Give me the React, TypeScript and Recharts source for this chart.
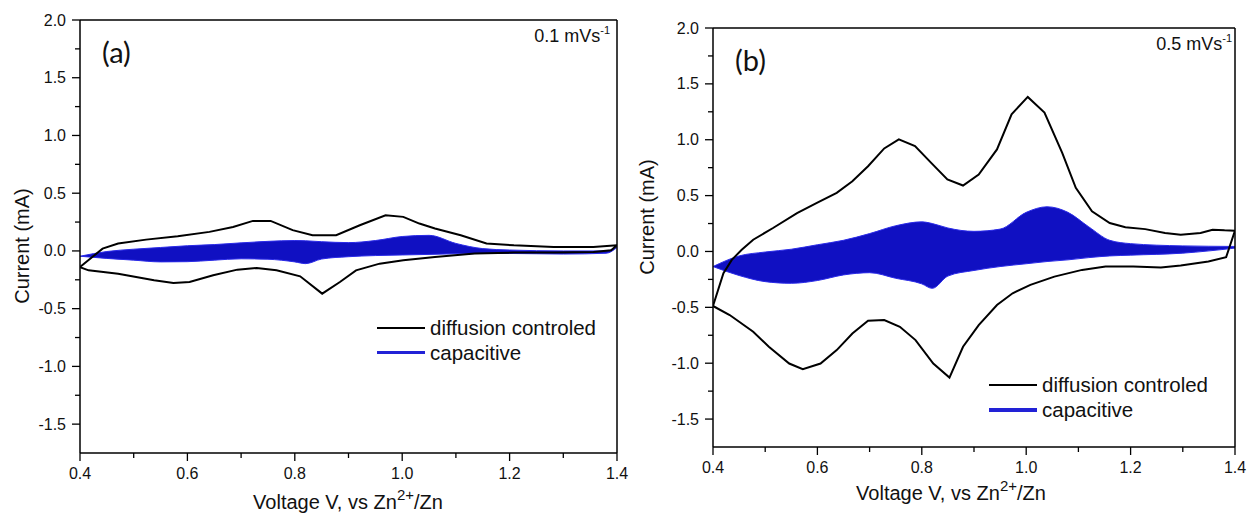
import { ComposedChart, Line, Area, XAxis, YAxis, ReferenceLine, Legend } from 'recharts';

const FONT = '"Liberation Sans", Arial, sans-serif';
const TAG_FONT = 'Lato, "Open Sans", sans-serif';

// axis ticks (minor ticks included, labels only on majors)
const voltageTicks = [0.4, 0.5, 0.6, 0.7, 0.8, 0.9, 1.0, 1.1, 1.2, 1.3, 1.4];
const currentTicks = [-1.5, -1.25, -1.0, -0.75, -0.5, -0.25, 0, 0.25, 0.5, 0.75, 1.0, 1.25, 1.5, 1.75, 2.0];

const legendNames = ['diffusion controled', 'capacitive'];

// (a) 0.1 mV/s — diffusion controlled loop
const aUpperV = [0.4, 0.442, 0.471, 0.523, 0.582, 0.641, 0.685, 0.722, 0.755, 0.796, 0.833, 0.877, 0.921, 0.969, 1.002, 1.032, 1.061, 1.109, 1.157, 1.208, 1.282, 1.356, 1.4];
const aUpperI = [-0.14, 0.02, 0.064, 0.098, 0.127, 0.165, 0.208, 0.26, 0.26, 0.18, 0.136, 0.136, 0.222, 0.309, 0.295, 0.237, 0.194, 0.136, 0.064, 0.049, 0.035, 0.035, 0.049];
const aLowerV = [0.4, 0.416, 0.471, 0.538, 0.574, 0.604, 0.648, 0.693, 0.729, 0.766, 0.81, 0.851, 0.884, 0.914, 0.958, 1.002, 1.061, 1.135, 1.208, 1.282, 1.356, 1.389, 1.4];
const aLowerI = [-0.14, -0.168, -0.197, -0.254, -0.277, -0.269, -0.211, -0.162, -0.147, -0.168, -0.22, -0.37, -0.269, -0.168, -0.11, -0.081, -0.052, -0.023, -0.014, -0.014, -0.009, 0.006, 0.049];

// (a) capacitive band
const aCapV = [0.4, 0.45, 0.5, 0.55, 0.6, 0.65, 0.7, 0.75, 0.8, 0.82, 0.85, 0.9, 0.95, 1.0, 1.05, 1.1, 1.15, 1.2, 1.3, 1.38, 1.4];
const aCapLow = [-0.046, -0.065, -0.08, -0.095, -0.093, -0.08, -0.068, -0.072, -0.095, -0.11, -0.07, -0.05, -0.04, -0.035, -0.03, -0.025, -0.022, -0.022, -0.027, -0.02, 0.03];
const aCapHigh = [-0.046, -0.005, 0.015, 0.03, 0.045, 0.055, 0.07, 0.083, 0.09, 0.088, 0.08, 0.072, 0.09, 0.125, 0.135, 0.065, 0.02, 0.008, 0.0, 0.0, 0.035];

// (b) 0.5 mV/s — diffusion controlled loop
const bUpperV = [0.4, 0.42, 0.436, 0.455, 0.477, 0.515, 0.561, 0.599, 0.637, 0.667, 0.697, 0.728, 0.756, 0.787, 0.818, 0.849, 0.879, 0.909, 0.944, 0.972, 1.003, 1.035, 1.069, 1.095, 1.126, 1.16, 1.19, 1.228, 1.266, 1.296, 1.334, 1.357, 1.38, 1.4];
const bUpperI = [-0.488, -0.195, -0.075, 0.015, 0.105, 0.21, 0.344, 0.434, 0.524, 0.629, 0.763, 0.922, 1.003, 0.943, 0.793, 0.644, 0.59, 0.689, 0.913, 1.228, 1.383, 1.243, 0.883, 0.569, 0.359, 0.254, 0.216, 0.2, 0.165, 0.15, 0.165, 0.195, 0.189, 0.186];
const bLowerV = [0.4, 0.432, 0.477, 0.507, 0.546, 0.572, 0.606, 0.637, 0.667, 0.697, 0.728, 0.758, 0.788, 0.822, 0.853, 0.879, 0.909, 0.944, 0.974, 1.008, 1.054, 1.107, 1.152, 1.205, 1.258, 1.296, 1.349, 1.383, 1.4];
const bLowerI = [-0.488, -0.569, -0.719, -0.853, -1.003, -1.054, -1.003, -0.883, -0.734, -0.62, -0.614, -0.674, -0.793, -1.003, -1.129, -0.853, -0.659, -0.479, -0.374, -0.299, -0.225, -0.165, -0.135, -0.135, -0.144, -0.126, -0.09, -0.051, 0.186];

// (b) capacitive band
const bCapV = [0.4, 0.45, 0.5, 0.55, 0.6, 0.65, 0.7, 0.75, 0.8, 0.82, 0.85, 0.9, 0.95, 1.0, 1.04, 1.08, 1.12, 1.16, 1.2, 1.3, 1.4];
const bCapLow = [-0.135, -0.215, -0.27, -0.285, -0.26, -0.21, -0.19, -0.24, -0.29, -0.33, -0.22, -0.17, -0.135, -0.11, -0.09, -0.075, -0.055, -0.04, -0.033, -0.015, 0.03];
const bCapHigh = [-0.135, -0.04, -0.005, 0.02, 0.06, 0.1, 0.16, 0.23, 0.265, 0.25, 0.21, 0.18, 0.2, 0.35, 0.4, 0.35, 0.22, 0.1, 0.07, 0.05, 0.045];

const TICK = 8;
const MINOR = 5;
const GAP = 5;

// closed CV loop: forward sweep then the reverse sweep back
function makeLoop(uv: number[], ui: number[], lv: number[], li: number[]) {
  const up = uv.map((v, k) => ({ v, i: ui[k] }));
  const down = lv.map((v, k) => ({ v, i: li[k] })).reverse();
  return up.concat(down);
}

function makeBand(cv: number[], lo: number[], hi: number[]) {
  return cv.map((v, k) => ({ v, range: [lo[k], hi[k]] }));
}

function VoltTick(props: any) {
  const { x, y, payload } = props;
  const v = payload.value;
  const major = Math.round(v * 10) % 2 === 0;
  const axisY = y - TICK - GAP;
  return (
    <g>
      <line x1={x} x2={x} y1={axisY} y2={axisY + (major ? TICK : MINOR)} stroke="#000" strokeWidth={1.3} />
      {major && (
        <text x={x} y={axisY + 26} textAnchor="middle" fontSize={16} fontFamily={FONT} fill="#111">
          {v.toFixed(1)}
        </text>
      )}
    </g>
  );
}

function CurrentTick(props: any) {
  const { x, y, payload } = props;
  const v = payload.value;
  const major = Math.round(v * 4) % 2 === 0;
  const axisX = x + TICK + GAP;
  return (
    <g>
      <line x1={axisX - (major ? TICK : MINOR)} x2={axisX} y1={y} y2={y} stroke="#000" strokeWidth={1.3} />
      {major && (
        <text x={axisX - 14} y={y + 5.5} textAnchor="end" fontSize={16} fontFamily={FONT} fill="#111">
          {v.toFixed(1)}
        </text>
      )}
    </g>
  );
}

function LegendBox({ blueHeight }: { blueHeight: number }) {
  return (
    <div style={{ fontFamily: FONT, fontSize: 20.5, color: '#111' }}>
      {legendNames.map((name, k) => (
        <div key={name} style={{ display: 'flex', alignItems: 'center', height: 25 }}>
          <span
            style={{
              display: 'inline-block',
              width: 48,
              height: k === 0 ? 2 : blueHeight,
              background: k === 0 ? '#000' : '#2222d6',
              marginRight: 5,
            }}
          />
          <span>{name}</span>
        </div>
      ))}
    </div>
  );
}

interface PanelProps {
  left: number;
  width: number;
  margin: { top: number; right: number; bottom: number; left: number };
  yAxisWidth: number;
  loop: { v: number; i: number }[];
  band: { v: number; range: number[] }[];
  tag: string;
  tagPos: [number, number];
  rate: string;
  ratePos: [number, number];
  xTitle: [number, number];
  yTitle: [number, number];
  legendPos: [number, number];
  blueHeight: number;
}

function Panel(p: PanelProps) {
  const h = 514;
  return (
    <div style={{ position: 'absolute', left: p.left, top: 0, width: p.width, height: h }}>
      <ComposedChart width={p.width} height={h} margin={p.margin}>
        <XAxis
          dataKey="v"
          type="number"
          domain={[0.4, 1.4]}
          ticks={voltageTicks}
          interval={0}
          allowDataOverflow
          height={50}
          tickSize={TICK}
          tickMargin={GAP}
          tickLine={false}
          tick={VoltTick}
          axisLine={{ stroke: '#000', strokeWidth: 1.5 }}
        />
        <YAxis
          type="number"
          domain={[-1.75, 2.0]}
          ticks={currentTicks}
          interval={0}
          allowDataOverflow
          width={p.yAxisWidth}
          tickSize={TICK}
          tickMargin={GAP}
          tickLine={false}
          tick={CurrentTick}
          axisLine={{ stroke: '#000', strokeWidth: 1.5 }}
        />
        <ReferenceLine y={2.0} stroke="#000" strokeWidth={1.5} />
        <ReferenceLine x={1.4} stroke="#000" strokeWidth={1.5} />
        <Area
          data={p.band}
          dataKey="range"
          name="capacitive"
          type="monotone"
          stroke="#2a2ae8"
          strokeWidth={1}
          fill="#1010c2"
          fillOpacity={1}
          isAnimationActive={false}
        />
        <Line
          data={p.loop}
          dataKey="i"
          name="diffusion controled"
          type="linear"
          stroke="#000"
          strokeWidth={2}
          dot={false}
          isAnimationActive={false}
        />
        <Legend
          layout="vertical"
          verticalAlign="middle"
          align="center"
          wrapperStyle={{ left: p.legendPos[0], top: p.legendPos[1], width: 240 }}
          content={() => <LegendBox blueHeight={p.blueHeight} />}
        />
      </ComposedChart>
      <svg
        width={p.width}
        height={h}
        style={{ position: 'absolute', left: 0, top: 0, pointerEvents: 'none' }}
      >
        <text x={p.tagPos[0]} y={p.tagPos[1]} fontSize={29} fontFamily={TAG_FONT} fill="#111">
          {p.tag}
        </text>
        <text x={p.ratePos[0]} y={p.ratePos[1]} textAnchor="end" fontSize={18} fontFamily={FONT} fill="#111">
          {p.rate}
          <tspan dy={-8} fontSize={11}>-1</tspan>
        </text>
        <text x={p.xTitle[0]} y={p.xTitle[1]} textAnchor="middle" fontSize={20} fontFamily={FONT} fill="#111">
          Voltage V, vs Zn
          <tspan dy={-9} fontSize={15}>2+</tspan>
          <tspan dy={9}>/Zn</tspan>
        </text>
        <text
          x={p.yTitle[0]}
          y={p.yTitle[1]}
          textAnchor="middle"
          fontSize={20}
          fontFamily={FONT}
          fill="#111"
          transform={`rotate(-90 ${p.yTitle[0]} ${p.yTitle[1]})`}
        >
          Current (mA)
        </text>
      </svg>
    </div>
  );
}

export default function App() {
  return (
    <div style={{ position: 'absolute', left: 0, top: 0, width: 1247, height: 514, background: '#fff' }}>
      <Panel
        left={0}
        width={640}
        margin={{ top: 20, right: 23, bottom: 11, left: 0 }}
        yAxisWidth={80}
        loop={makeLoop(aUpperV, aUpperI, aLowerV, aLowerI)}
        band={makeBand(aCapV, aCapLow, aCapHigh)}
        tag="(a)"
        tagPos={[102, 63]}
        rate="0.1 mVs"
        ratePos={[610, 42]}
        xTitle={[348, 509]}
        yTitle={[29, 246]}
        legendPos={[377, 315]}
        blueHeight={3}
      />
      <Panel
        left={627}
        width={620}
        margin={{ top: 28, right: 12, bottom: 17, left: 0 }}
        yAxisWidth={86}
        loop={makeLoop(bUpperV, bUpperI, bLowerV, bLowerI)}
        band={makeBand(bCapV, bCapLow, bCapHigh)}
        tag="(b)"
        tagPos={[108, 71]}
        rate="0.5 mVs"
        ratePos={[605, 50]}
        xTitle={[324, 500]}
        yTitle={[27, 217]}
        legendPos={[362, 372]}
        blueHeight={4}
      />
    </div>
  );
}
